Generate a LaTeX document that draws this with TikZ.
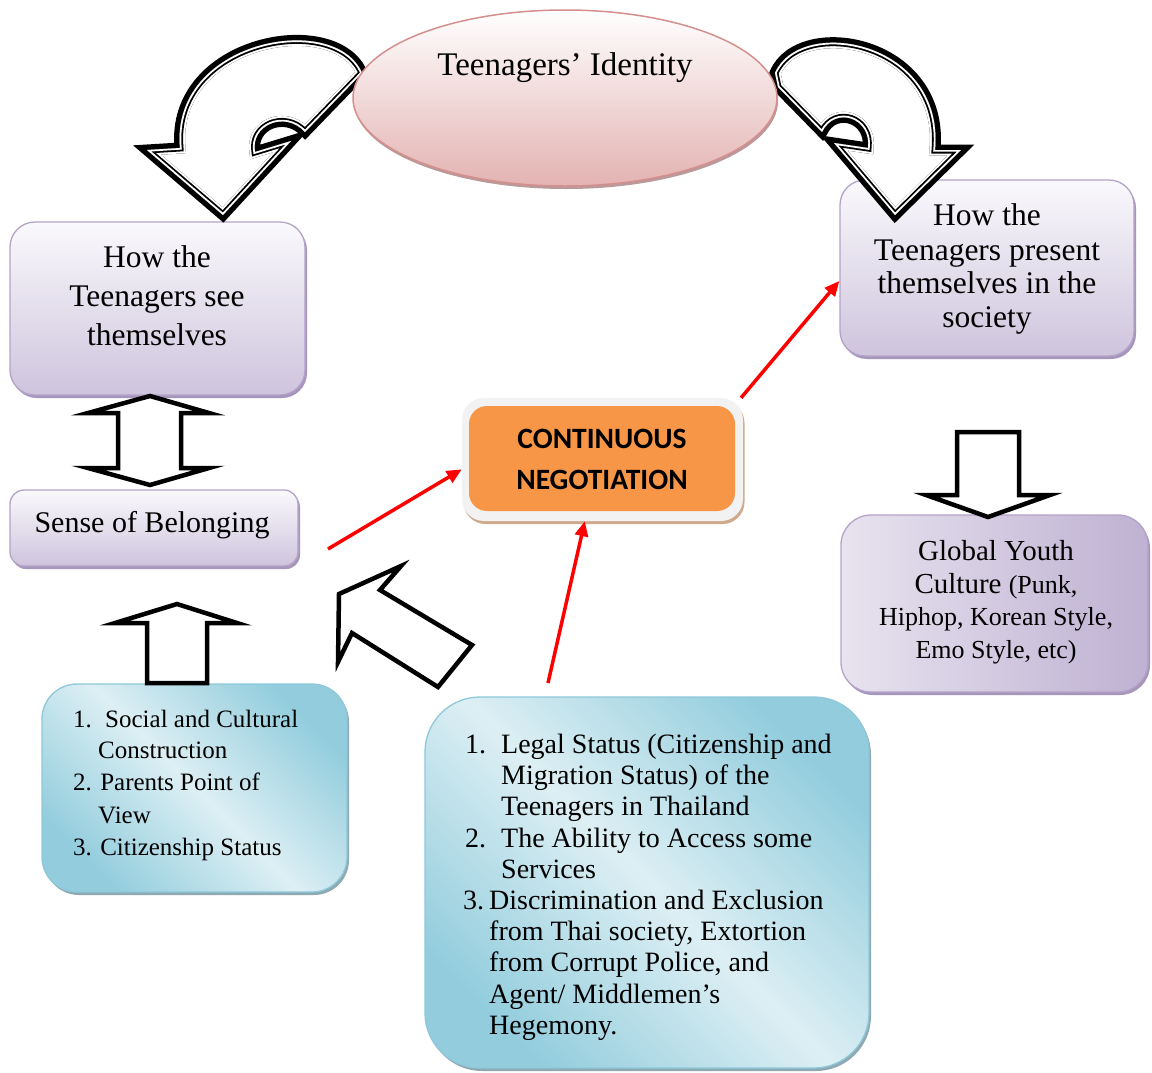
\documentclass[tikz,border=0pt]{standalone}
\usepackage{fontspec}
\setmainfont{Liberation Serif}
\newfontfamily\cnfont{Carlito}
\usetikzlibrary{arrows.meta,shapes.geometric,shadows}
\definecolor{ellfill}{HTML}{E3B3B2}
\definecolor{elldraw}{HTML}{D5908E}
\definecolor{ellshadow}{HTML}{B9999A}
\definecolor{pfill}{HTML}{CEC4DD}
\definecolor{ptop}{HTML}{FAF9FC}
\definecolor{pdraw}{HTML}{B4A3C8}
\definecolor{pshadow}{HTML}{A696BB}
\definecolor{gleft}{HTML}{E8E3EF}
\definecolor{gright}{HTML}{BEB1D2}
\definecolor{tdark}{HTML}{93CDDD}
\definecolor{tlight}{HTML}{DDEFF4}
\definecolor{tdraw}{HTML}{8EC8D9}
\definecolor{tshadow}{HTML}{8FA9B2}
\definecolor{orng}{HTML}{F79646}
\definecolor{cnframecol}{HTML}{F2F2F2}
\definecolor{cnshadow}{HTML}{CFA98C}
\newcommand\fsz[1]{\fontsize{#1}{#1}\selectfont}
\newcommand\dblshape[1]{%
  \fill[white] #1;
  \draw[black,line width=11pt,line join=miter,miter limit=6] #1;
  \begin{scope}
    \clip #1;
    \draw[white,line width=11pt,line join=miter] #1;
    \draw[black,line width=7pt,line join=miter] #1;
    \draw[white,line width=3.4pt,line join=miter] #1;
  \end{scope}}
\begin{document}
\begin{tikzpicture}[x=1pt,y=-1pt,
  pbox/.style={draw=pdraw,line width=1.3pt,top color=ptop,bottom color=pfill,inner sep=0,
    drop shadow={shadow xshift=2pt,shadow yshift=-3pt,fill=pshadow,opacity=1}},
  gbox/.style={draw=pdraw,line width=1.3pt,left color=gleft,right color=gright,inner sep=0,
    drop shadow={shadow xshift=2pt,shadow yshift=-3pt,fill=pshadow,opacity=1}},
  tbox/.style={draw=tdraw,line width=1.3pt,top color=tdark,bottom color=tdark,middle color=tlight,
    shading angle=-45,inner sep=0,
    drop shadow={shadow xshift=2pt,shadow yshift=-3pt,fill=tshadow,opacity=1}},
  blk/.style={draw=black,fill=white,line width=4.5pt,line join=miter},
  redarr/.style={draw=red,line width=3.5pt,-{Triangle[length=15pt,width=13pt]}},
  tx/.style={inner sep=0,anchor=base},
  lx/.style={inner sep=0,anchor=base west}]
\fill[white] (0,0) rectangle (1152,1072);
\useasboundingbox (0,0) rectangle (1152,1072);

% boxes
\node[pbox,rounded corners=25pt,minimum width=295pt,minimum height=173pt] (bsee) at (157.5,308.5) {};
\node[pbox,rounded corners=14pt,minimum width=288pt,minimum height=76pt] (bsense) at (154,528) {};
\node[pbox,rounded corners=25pt,minimum width=294pt,minimum height=176pt] (bpres) at (987,268) {};
\node[gbox,rounded corners=30pt,minimum width=307pt,minimum height=177pt] (bglob) at (994.5,603.5) {};
\node[tbox,rounded corners=35pt,minimum width=305pt,minimum height=208pt] (bleft) at (194.5,788) {};
\node[tbox,rounded corners=55pt,minimum width=444pt,minimum height=371pt] (bbig) at (647,882.5) {};
\node[fill=cnframecol,rounded corners=22pt,minimum width=281pt,minimum height=123pt,inner sep=0,
  drop shadow={shadow xshift=1.5pt,shadow yshift=-3pt,fill=cnshadow,opacity=1}] (cnf) at (602.5,459.5) {};
\node[fill=orng,rounded corners=18pt,minimum width=266pt,minimum height=105pt,inner sep=0] (cn) at (602,458.5) {};

% straight block arrows
\draw[blk] (150,396) -- (209,413) -- (181,413) -- (181,468) -- (209,468) -- (150,485)
  -- (88,468) -- (118,468) -- (118,413) -- (88,413) -- cycle;
\draw[blk] (177,604) -- (237,623) -- (207,623) -- (207,683) -- (147,683) -- (147,623) -- (115,623) -- cycle;
\draw[blk] (957,432) -- (1019,432) -- (1019,495) -- (1050,495) -- (988,517) -- (926,495) -- (957,495) -- cycle;
\draw[blk] (339,594) -- (401,566) -- (380,590) -- (472,645) -- (438,687) -- (352,633) -- (338,662) -- cycle;

% curved arrows
\dblshape{(362,73) .. controls (335,10) and (170,40) .. (180,148) -- (147,150) -- (223,215) -- (291,141) -- (255,152) .. controls (250,125) and (285,110) .. (305,132) -- cycle}
\dblshape{(775,73) .. controls (800,15) and (945,40) .. (935,150) -- (961,150) -- (895,215) -- (834,143) -- (868,148) .. controls (872,118) and (835,105) .. (822,132) -- (778,87) -- cycle}

% ellipse
\node[ellipse,minimum width=424pt,minimum height=176pt,inner sep=0,draw=elldraw,line width=1.5pt,
  top color=white,bottom color=ellfill,
  drop shadow={shadow xshift=1pt,shadow yshift=-3pt,fill=ellshadow,opacity=1}] (ell) at (565,98) {};

% texts
\node[tx,font=\fsz{33}] (tell) at (565,75) {Teenagers’ Identity};
\node[tx,font=\fsz{31.5}] (tsee1) at (157,267) {How the};
\node[tx,font=\fsz{31.5}] (tsee2) at (157,306) {Teenagers see};
\node[tx,font=\fsz{31.5}] (tsee3) at (157,345) {themselves};
\node[tx,font=\fsz{30}] (tsense) at (152,532) {Sense of Belonging};
\node[tx,font=\fsz{31.5}] (tpres1) at (987,225) {How the};
\node[tx,font=\fsz{31.5}] (tpres2) at (987,260) {Teenagers present};
\node[tx,font=\fsz{31.5}] (tpres3) at (987,293) {themselves in the};
\node[tx,font=\fsz{31.5}] (tpres4) at (987,327) {society};
\node[tx,font=\fsz{29}] (tglob1) at (996,560) {Global Youth};
\node[tx,font=\fsz{29}] (tglob2) at (996,593) {Culture {\fsz{26}(Punk,}};
\node[tx,font=\fsz{26}] (tglob3) at (996,625) {Hiphop, Korean Style,};
\node[tx,font=\fsz{26}] (tglob4) at (996,658) {Emo Style, etc)};
\node[tx,font=\cnfont\bfseries\fsz{29.5}] (tcn1) at (602,448) {CONTINUOUS};
\node[tx,font=\cnfont\bfseries\fsz{29.5}] (tcn2) at (602,489) {NEGOTIATION};

\node[lx,font=\fsz{25}] (tl1) at (73,727) {1.};
\node[lx,font=\fsz{25}] (tl1a) at (105,727) {Social and Cultural};
\node[lx,font=\fsz{25}] (tl1b) at (98,758) {Construction};
\node[lx,font=\fsz{25}] (tl2) at (73,790) {2. Parents Point of};
\node[lx,font=\fsz{25}] (tl2b) at (98,823) {View};
\node[lx,font=\fsz{25}] (tl3) at (73,855) {3. Citizenship Status};

\node[lx,font=\fsz{28}] (tb1) at (465,753) {1.};
\node[lx,font=\fsz{28}] (tb1a) at (501,753) {Legal Status (Citizenship and};
\node[lx,font=\fsz{28}] (tb1b) at (501,784) {Migration Status) of the};
\node[lx,font=\fsz{28}] (tb1c) at (501,815) {Teenagers in Thailand};
\node[lx,font=\fsz{28}] (tb2) at (465,847) {2.};
\node[lx,font=\fsz{28}] (tb2a) at (501,847) {The Ability to Access some};
\node[lx,font=\fsz{28}] (tb2b) at (501,878) {Services};
\node[lx,font=\fsz{28}] (tb3) at (463,909) {3.};
\node[lx,font=\fsz{28}] (tb3a) at (489,909) {Discrimination and Exclusion};
\node[lx,font=\fsz{28}] (tb3b) at (489,940) {from Thai society, Extortion};
\node[lx,font=\fsz{28}] (tb3c) at (489,971) {from Corrupt Police, and};
\node[lx,font=\fsz{28}] (tb3d) at (489,1003) {Agent/ Middlemen’s};
\node[lx,font=\fsz{28}] (tb3e) at (489,1034) {Hegemony.};

% red arrows
\coordinate (r1s) at (328,549);
\coordinate (r2s) at (548,683);
\draw[redarr] (r1s) -- (cnf.184);
\draw[redarr] (r2s) -- (cnf.254);
\draw[redarr] (cnf.24) -- (bpres.185);
\end{tikzpicture}
\end{document}
